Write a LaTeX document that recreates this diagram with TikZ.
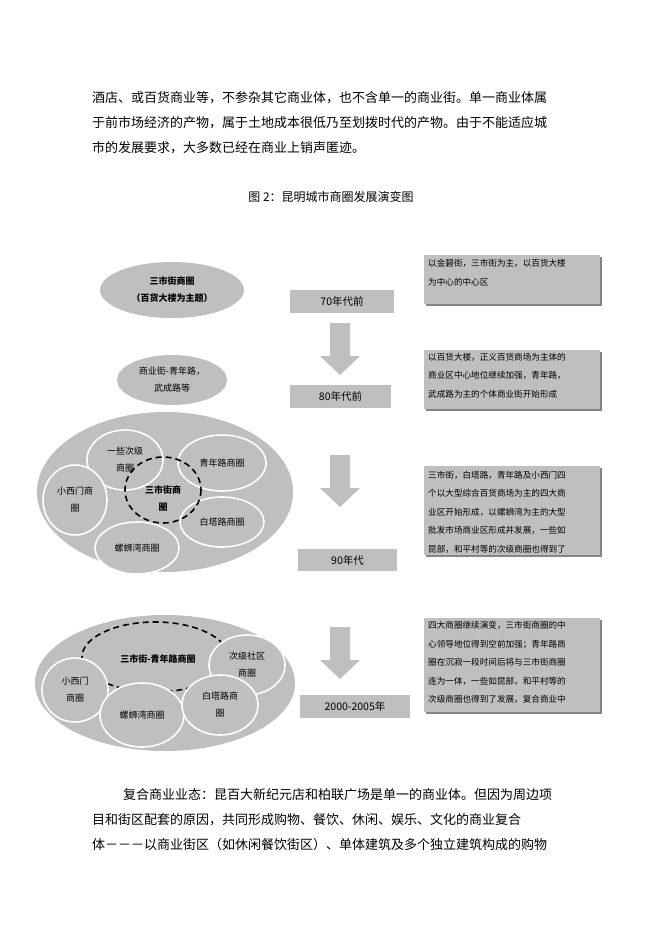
\documentclass[tikz,border=0pt]{standalone}
\usepackage{fontspec}
\setmainfont{Noto Sans CJK SC}
\usetikzlibrary{shapes.geometric}
\begin{document}
\begin{tikzpicture}[x=1pt,y=-1pt,
  para/.style={anchor=west,font=\fontsize{13}{14}\selectfont,inner sep=0},
  ell/.style={ellipse,fill=g,draw=white,line width=1.6pt,align=center,font=\fontsize{9}{17}\selectfont,inner sep=0},
  dashell/.style={draw,line width=1.6pt,dash pattern=on 6pt off 4pt},
  era/.style={fill=g,font=\fontsize{10.5}{12}\selectfont,inner sep=0},
  note/.style={font=\fontsize{8.6}{18.5}\selectfont,align=left,anchor=north west,inner sep=0},
  shadow/.style={fill=g!70!black}]
\colorlet{g}{black!25}
\useasboundingbox (0,0) rectangle (662,936);
\node[para] (p1) at (92,98) {酒店、或百货商业等，不参杂其它商业体，也不含单一的商业街。单一商业体属};
\node[para] (p2) at (92,123) {于前市场经济的产物，属于土地成本很低乃至划拨时代的产物。由于不能适应城};
\node[para] (p3) at (92,148) {市的发展要求，大多数已经在商业上销声匿迹。};
\node[font=\fontsize{12}{12}\selectfont] (cap) at (331,197) {图 2：昆明城市商圈发展演变图};
% stage 1
\path[fill=g] (172,290) ellipse[x radius=72,y radius=28];
\node[align=center,font=\bfseries\fontsize{9}{17}\selectfont] (e1) at (172,290) {三市街商圈\\（百货大楼为主题）};
\node[era,minimum width=104pt,minimum height=23pt] (b1) at (342,301.5) {70年代前};
\fill[shadow] (426,257) rectangle (602,306);
\fill[g] (424,255) rectangle (600,304);
\node[note] (n1) at (428,259) {以金碧街，三市街为主，以百货大楼\\为中心的中心区};
% stage 2
\path[fill=g] (172,380) ellipse[x radius=55,y radius=25];
\node[align=center,font=\fontsize{9}{17}\selectfont] (e2) at (172,380) {商业街-青年路，\\武成路等};
\node[era,minimum width=101pt,minimum height=23pt] (b2) at (340.5,396.5) {80年代前};
\fill[shadow] (426,352) rectangle (602,411);
\fill[g] (424,350) rectangle (600,409);
\node[note] (n2) at (428,353) {以百货大楼，正义百货商场为主体的\\商业区中心地位继续加强，青年路，\\武成路为主的个体商业街开始形成};
% arrows
\foreach \y in {323,455,627}{
  \fill[g] (330,\y) -- (350,\y) -- (350,\y+33) -- (360,\y+33) -- (340,\y+52) -- (320,\y+33) -- (330,\y+33) -- cycle;
}
% stage 3
\path[fill=g] (165,492) ellipse[x radius=128,y radius=80];
\node[ell,minimum width=76pt,minimum height=60pt] (s1) at (125,460) {一些次级\\商圈};
\node[ell,minimum width=88pt,minimum height=56pt] (s2) at (222,463) {青年路商圈};
\node[ell,minimum width=64pt,minimum height=70pt] (s3) at (75,500) {小西门商\\圈};
\node[ell,minimum width=84pt,minimum height=50pt] (s4) at (222,522) {白塔路商圈};
\node[ell,minimum width=84pt,minimum height=52pt] (s5) at (137,548) {螺蛳湾商圈};
\draw[dashell] (163,490) ellipse[x radius=38,y radius=33];
\node[align=center,font=\bfseries\fontsize{9}{17}\selectfont] (c3) at (163,499) {三市街商\\圈};
\node[era,minimum width=99pt,minimum height=22pt] (b3) at (347.5,560) {90年代};
\fill[shadow] (426,468) rectangle (602,557);
\fill[g] (424,466) rectangle (600,555);
\node[note] (n3) at (428,471) {三市街，白塔路，青年路及小西门四\\个以大型综合百货商场为主的四大商\\业区开始形成，以螺蛳湾为主的大型\\批发市场商业区形成并发展，一些如\\昆部，和平村等的次级商圈也得到了};
% stage 4
\path[fill=g] (165,683) ellipse[x radius=130,y radius=68];
\draw[dashell] (155,657) ellipse[x radius=73,y radius=35];
\node[font=\bfseries\fontsize{9}{12}\selectfont] (c4) at (158,659) {三市街-青年路商圈};
\node[ell,minimum width=76pt,minimum height=60pt] (t1) at (247,665) {次级社区\\商圈};
\node[ell,minimum width=66pt,minimum height=64pt] (t2) at (75,690) {小西门\\商圈};
\node[ell,minimum width=84pt,minimum height=64pt] (t3) at (142,715) {螺蛳湾商圈};
\node[ell,minimum width=76pt,minimum height=60pt] (t4) at (220,705) {白塔路商\\圈};
\node[era,minimum width=110pt,minimum height=23pt] (b4) at (355,706.5) {2000-2005年};
\fill[shadow] (426,620) rectangle (602,714);
\fill[g] (424,618) rectangle (600,712);
\node[note] (n4) at (428,621) {四大商圈继续演变，三市街商圈的中\\心领导地位得到空前加强；青年路商\\圈在沉寂一段时间后将与三市街商圈\\连为一体，一些如昆部，和平村等的\\次级商圈也得到了发展，复合商业中};
% bottom
\node[para] (q1) at (123,795) {复合商业业态：昆百大新纪元店和柏联广场是单一的商业体。但因为周边项};
\node[para] (q2) at (92,820) {目和街区配套的原因，共同形成购物、餐饮、休闲、娱乐、文化的商业复合};
\node[para] (q3) at (92,845) {体－－－以商业街区（如休闲餐饮街区）、单体建筑及多个独立建筑构成的购物};
\end{tikzpicture}
\end{document}
